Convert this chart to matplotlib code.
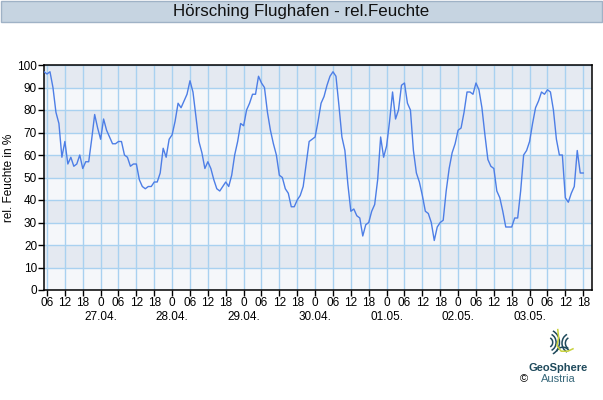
import numpy as np
import matplotlib.pyplot as plt
from matplotlib.patches import Rectangle, Arc
from matplotlib.transforms import blended_transform_factory

# hourly relative humidity, first value at 26.04. 05:00
start_hour = 5
humidity = [
    97, 96, 97, 90, 79, 74, 59, 66, 56, 59, 55, 56, 60, 54, 57, 57, 67, 78, 72,
    67, 76, 71, 68, 65, 65, 66, 66, 60, 59, 55, 56, 56, 49, 46, 45, 46, 46, 48,
    48, 52, 63, 59, 67, 69, 75, 83, 81, 84, 87, 93, 88, 77, 66, 61, 54, 57, 54,
    49, 45, 44, 46, 48, 46, 51, 60, 66, 74, 73, 80, 83, 87, 87, 95, 92, 90, 79,
    71, 65, 60, 51, 50, 45, 43, 37, 37, 40, 42, 46, 56, 66, 67, 68, 75, 83, 86,
    91, 95, 97, 95, 82, 68, 62, 47, 35, 36, 33, 32, 24, 29, 30, 35, 38, 49, 68,
    59, 64, 75, 88, 76, 80, 91, 92, 83, 80, 62, 52, 48, 42, 35, 34, 30, 22, 28,
    30, 31, 44, 54, 61, 65, 71, 72, 79, 88, 88, 87, 92, 89, 81, 69, 58, 55, 54,
    44, 41, 35, 28, 28, 28, 32, 32, 44, 60, 62, 66, 74, 81, 84, 88, 87, 89, 88,
    80, 67, 60, 60, 41, 39, 43, 46, 62, 52, 52,
]
day_labels = ["27.04.", "28.04.", "29.04.", "30.04.", "01.05.", "02.05.", "03.05."]
title = "Hörsching Flughafen - rel.Feuchte"
ylabel = "rel. Feuchte in %"

plt.rcParams["font.family"] = ["Liberation Sans", "DejaVu Sans"]

hours = np.arange(start_hour, start_hour + len(humidity))

fig = plt.figure(figsize=(6.03, 4.0), dpi=100)
fig.patch.set_facecolor("white")

# title bar
fig.patches.append(Rectangle((0.001, 0.946), 0.997, 0.052, transform=fig.transFigure,
                             facecolor="#c6d4e1", edgecolor="#9fb2c6", lw=1.0))
fig.text(0.5, 0.971, title, ha="center", va="center", fontsize=12.2, color="#111111")

ax = fig.add_axes([0.073, 0.275, 0.909, 0.5625])
ax.set_xlim(5, 189)
ax.set_ylim(0, 100)

# alternating horizontal bands
for lo in range(0, 100, 10):
    col = "#e4e9f1" if (lo // 10) % 2 == 1 else "#f5f7fa"
    ax.axhspan(lo, lo + 10, color=col, zorder=0, lw=0)

xticks = np.arange(6, 187, 6)
ax.set_xticks(xticks)
ax.set_xticklabels(["0" if h % 24 == 0 else f"{h % 24:02d}" for h in xticks])
ax.set_yticks(range(0, 101, 10))
ax.grid(True, color="#a9d1f0", lw=1.0, zorder=1)
ax.set_axisbelow(True)

ax.plot(hours, humidity, color="#4d7ee6", lw=1.0, zorder=3)

for s in ax.spines.values():
    s.set_color("black")
    s.set_linewidth(1.1)
ax.tick_params(axis="both", labelsize=8.5, length=4, width=1, colors="black", pad=1)

trans = blended_transform_factory(ax.transData, ax.transAxes)
midnights = [24 * (i + 1) for i in range(len(day_labels))]
for m, lab in zip(midnights, day_labels):
    ax.text(m, -0.118, lab, transform=trans, ha="center", va="center", fontsize=8.5)

ax.set_ylabel(ylabel, fontsize=8.5, va="center")
ax.yaxis.set_label_coords(-0.064, 0.5)

# logo (approximation)
lax = fig.add_axes([0.897, 0.1, 0.056, 0.08])
lax.set_xlim(-1, 1)
lax.set_ylim(-1, 1)
lax.axis("off")
dark = "#1f4a5c"
for r in (0.25, 0.45, 0.65):
    lax.add_patch(Arc((-0.55, 0.1), r * 2, r * 2.4, theta1=-70, theta2=70, color=dark, lw=1.1))
for r in (0.3, 0.5):
    lax.add_patch(Arc((0.75, 0.05), r * 2, r * 2.4, theta1=110, theta2=250, color=dark, lw=1.1))
lax.add_patch(Arc((0.3, -0.6), 0.8, 0.8, theta1=30, theta2=160, color=dark, lw=1.1))
lax.plot([0.0, 0.05, -0.05, 0.2, 0.6, 0.9], [0.9, 0.4, -0.1, -0.45, -0.45, -0.3],
         color="#c8d23c", lw=1.1)
fig.text(0.926, 0.08, "GeoSphere", ha="center", va="center", fontsize=8,
         fontweight="bold", color=dark)
fig.text(0.926, 0.0525, "Austria", ha="center", va="center", fontsize=8, color="#3a6a7c")
fig.text(0.869, 0.0525, "©", ha="center", va="center", fontsize=8, color="black")

fig.savefig("out.png", dpi=100)
